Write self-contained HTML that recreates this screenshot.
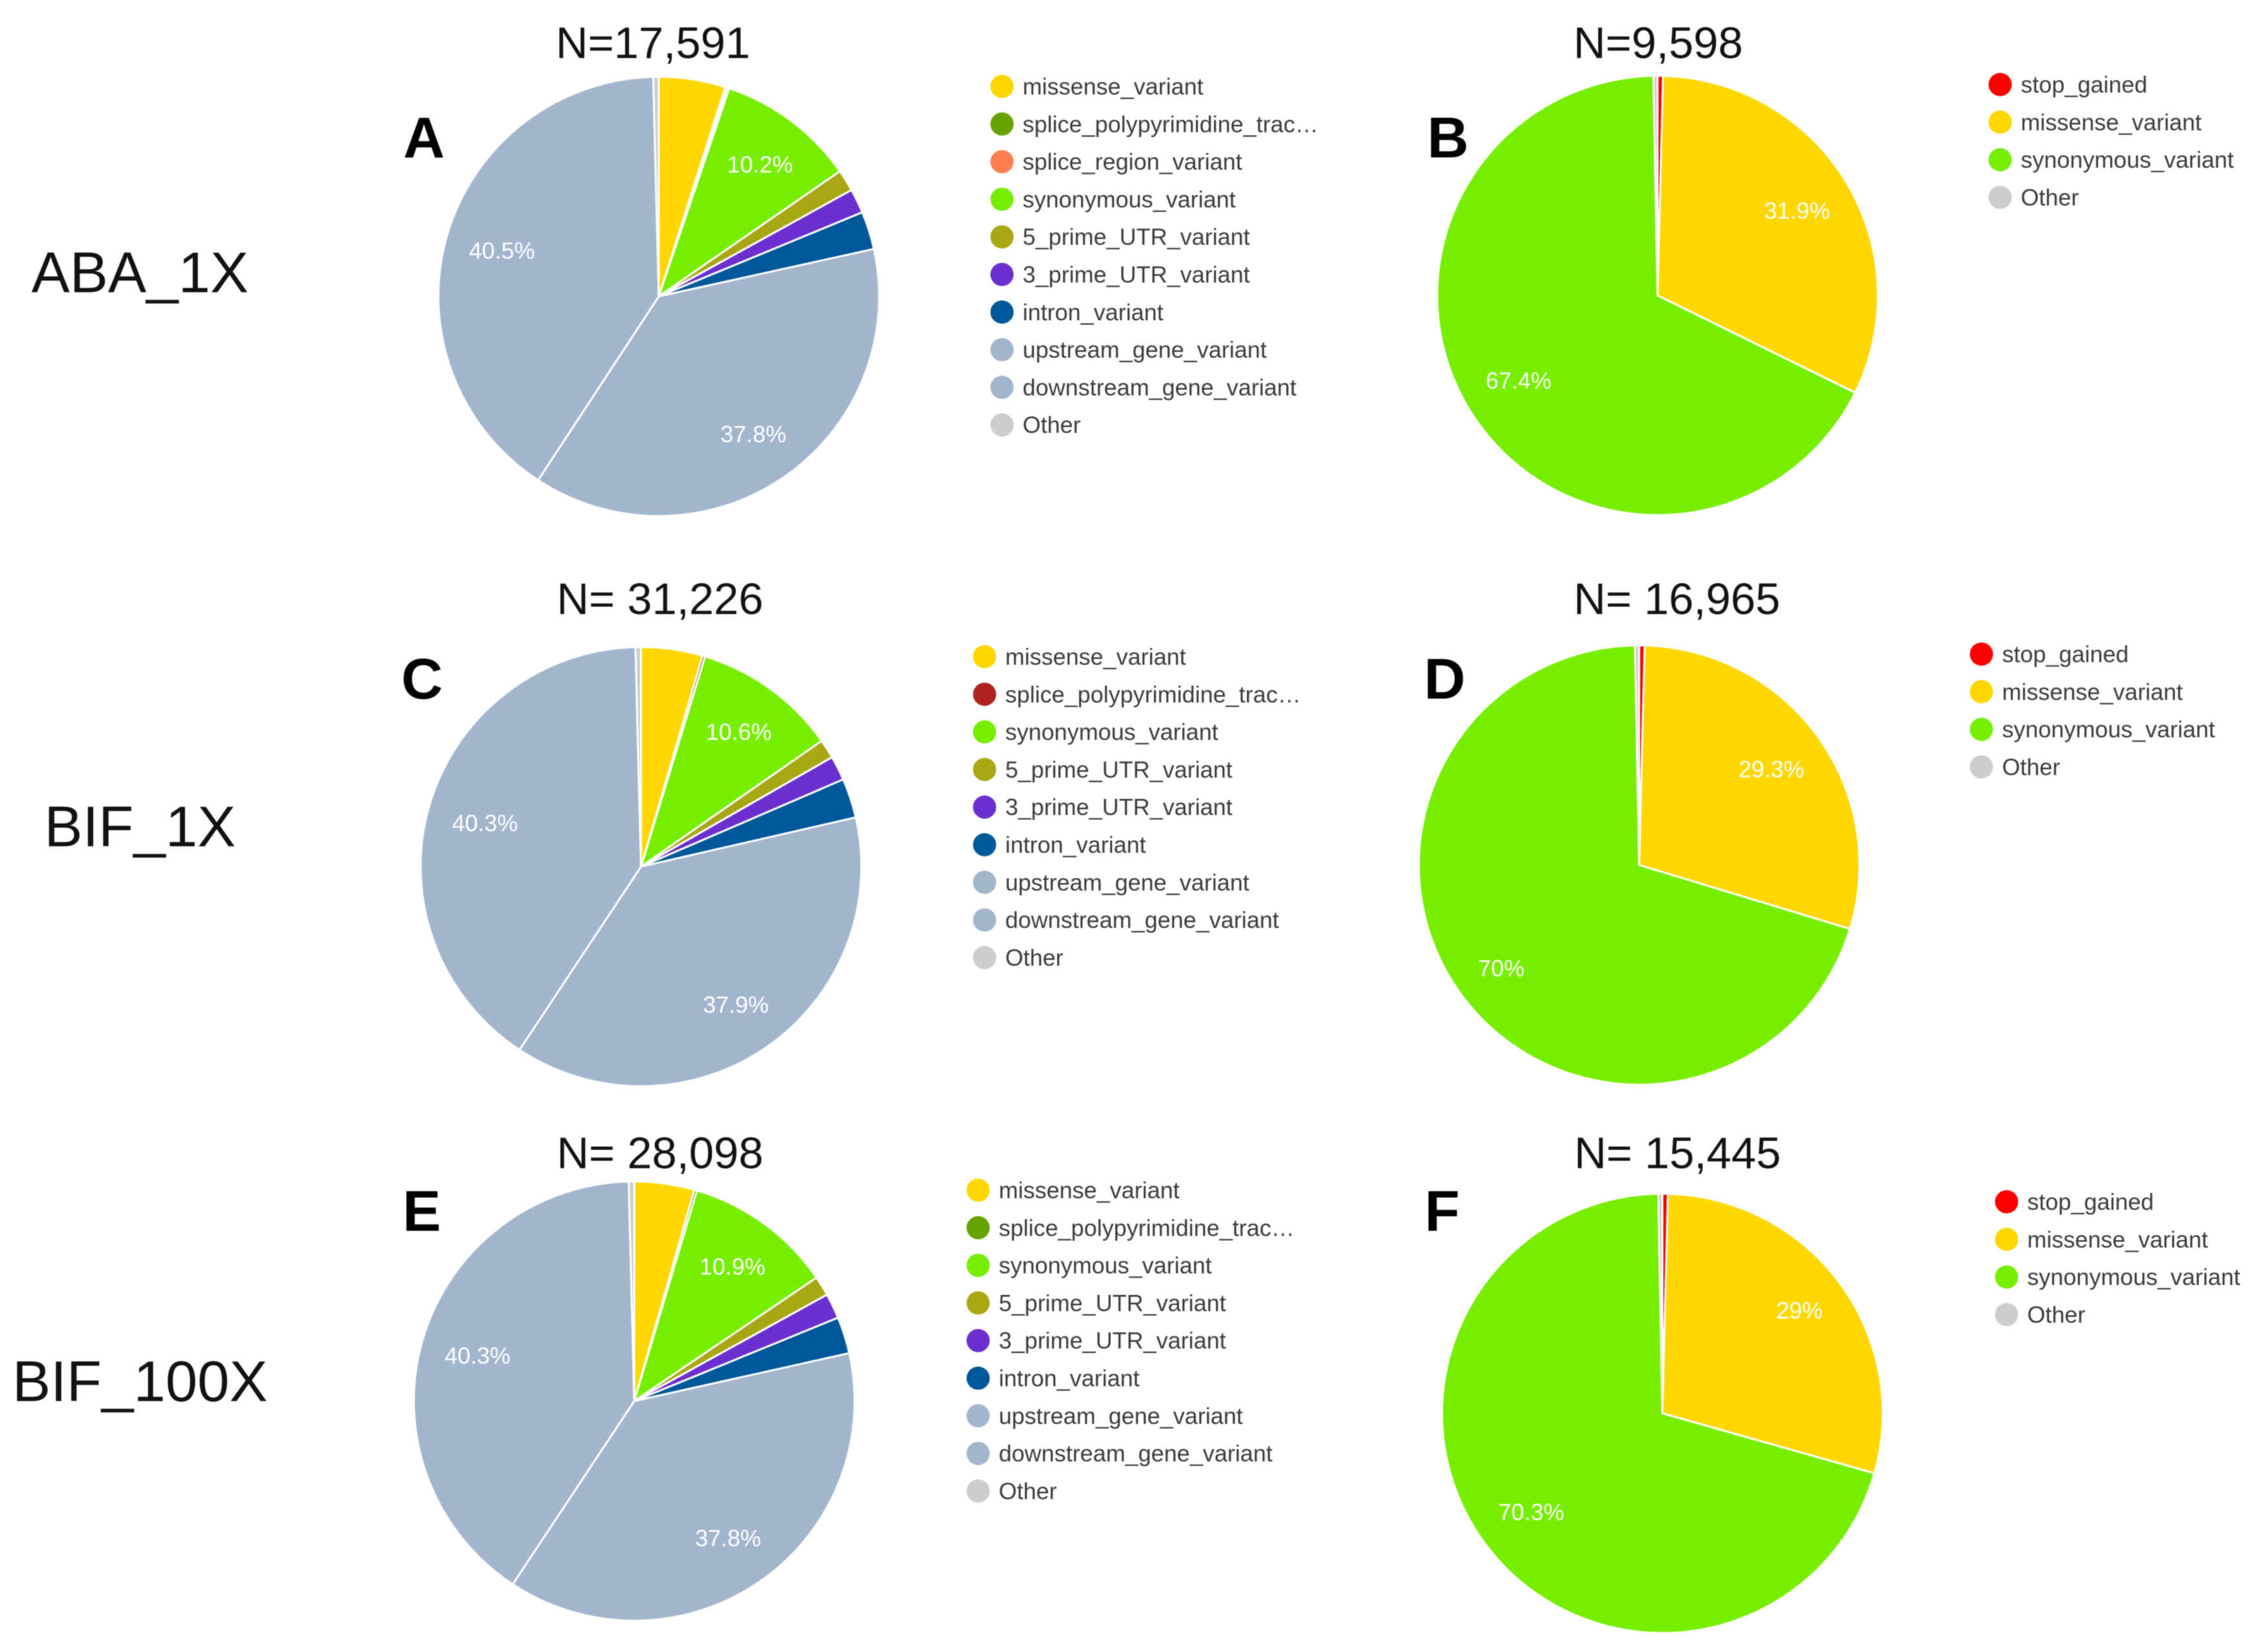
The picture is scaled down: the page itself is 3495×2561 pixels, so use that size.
<!DOCTYPE html>
<html lang="en">
<head>
<meta charset="utf-8">
<title>Variant effect pie charts</title>
<style>
  html, body { margin: 0; padding: 0; background: #ffffff; }
  svg { display: block; font-family: "Liberation Sans", Arial, sans-serif; filter: blur(0.8px); }
  .sample { font-size: 89px; fill: #111111; text-anchor: middle; }
  .total { font-size: 69px; fill: #111111; text-anchor: middle; }
  .letter { font-size: 89px; font-weight: bold; fill: #000000; }
  .legend-text { font-size: 36px; fill: #3a3a3a; dominant-baseline: central; }
  .pct { font-size: 36px; fill: #ffffff; text-anchor: middle; dominant-baseline: central; }
</style>
</head>
<body>
<svg id="figure" xmlns="http://www.w3.org/2000/svg" width="3495" height="2561" viewBox="0 0 3495 2561">
  <rect x="0" y="0" width="3495" height="2561" fill="#ffffff"/>

  <text class="sample" x="217" y="453">ABA_1X</text>
  <text class="sample" x="217" y="1312">BIF_1X</text>
  <text class="sample" x="217" y="2172">BIF_100X</text>

  <text class="total" x="1012" y="90">N=17,591</text>
  <text class="total" x="2570" y="90">N=9,598</text>
  <text class="total" x="1023" y="952">N= 31,226</text>
  <text class="total" x="2599" y="952">N= 16,965</text>
  <text class="total" x="1023" y="1811">N= 28,098</text>
  <text class="total" x="2600" y="1811">N= 15,445</text>

  <text class="letter" x="625" y="244">A</text>
  <text class="letter" x="2212" y="244">B</text>
  <text class="letter" x="622" y="1083">C</text>
  <text class="letter" x="2207" y="1083">D</text>
  <text class="letter" x="624" y="1908">E</text>
  <text class="letter" x="2208" y="1908">F</text>
</svg>

<script>
// Data: categories (clockwise from 12 o'clock) and percent values for each panel.
const categoriesA = ["missense_variant", "splice_polypyrimidine_trac…", "splice_region_variant", "synonymous_variant", "5_prime_UTR_variant", "3_prime_UTR_variant", "intron_variant", "upstream_gene_variant", "downstream_gene_variant", "Other"];
const valuesA = [4.9, 0.15, 0.15, 10.2, 1.6, 1.8, 2.8, 37.8, 40.5, 0.4];

const categoriesB = ["stop_gained", "missense_variant", "synonymous_variant", "Other"];
const valuesB = [0.4, 31.9, 67.4, 0.3];

const categoriesC = ["missense_variant", "splice_polypyrimidine_trac…", "synonymous_variant", "5_prime_UTR_variant", "3_prime_UTR_variant", "intron_variant", "upstream_gene_variant", "downstream_gene_variant", "Other"];
const valuesC = [4.5, 0.2, 10.6, 1.4, 1.8, 2.9, 37.9, 40.3, 0.4];

const categoriesD = ["stop_gained", "missense_variant", "synonymous_variant", "Other"];
const valuesD = [0.4, 29.3, 70, 0.3];

const categoriesE = ["missense_variant", "splice_polypyrimidine_trac…", "synonymous_variant", "5_prime_UTR_variant", "3_prime_UTR_variant", "intron_variant", "upstream_gene_variant", "downstream_gene_variant", "Other"];
const valuesE = [4.4, 0.2, 10.9, 1.45, 1.85, 2.7, 37.8, 40.3, 0.4];

const categoriesF = ["stop_gained", "missense_variant", "synonymous_variant", "Other"];
const valuesF = [0.4, 29, 70.3, 0.3];

// Styling, kept apart from the data.
const colorFor = {
  "stop_gained": "#ff0000",
  "missense_variant": "#ffd700",
  "splice_polypyrimidine_trac…": "#66a300",
  "splice_region_variant": "#ff7f50",
  "synonymous_variant": "#76ee00",
  "5_prime_UTR_variant": "#a8a612",
  "3_prime_UTR_variant": "#6a2fce",
  "intron_variant": "#00589b",
  "upstream_gene_variant": "#a2b5cd",
  "downstream_gene_variant": "#a2b5cd",
  "Other": "#cccccc"
};
// Small placement adjustments applied on top of the computed label anchor.
const labelNudge = {
  "a-synonymous-variant": [5, -3],
  "a-upstream-gene-variant": [3, 6],
  "a-downstream-gene-variant": [0, -2],
  "b-missense-variant": [0, -1],
  "b-synonymous-variant": [-2, -3],
  "c-synonymous-variant": [3, -5],
  "c-upstream-gene-variant": [3, 7],
  "c-downstream-gene-variant": [1, 2],
  "d-missense-variant": [0, -1],
  "d-synonymous-variant": [-12, 8],
  "e-synonymous-variant": [3, -5],
  "e-upstream-gene-variant": [2, 5],
  "e-downstream-gene-variant": [0, -1],
  "f-missense-variant": [9, -10],
  "f-synonymous-variant": [-3, -1]
};
const SVG_NS = "http://www.w3.org/2000/svg";
const RADIUS_X = 341.5;
const RADIUS_Y = 340.5;
const LABEL_FRACTION = 0.74;
const LABEL_MIN_PERCENT = 10;
const LEGEND_STEP = 58.3;
const LEGEND_DOT_R = 18;
const LEGEND_TEXT_GAP = 32;

const figure = document.getElementById("figure");

function slug(text) {
  return text.replace(/[^A-Za-z0-9]+/g, "-").replace(/-+$/, "").toLowerCase();
}

function pointAt(cx, cy, fraction, share) {
  const a = share * 2 * Math.PI;
  return [cx + fraction * RADIUS_X * Math.sin(a), cy - fraction * RADIUS_Y * Math.cos(a)];
}

function drawPanel(id, categories, values, cx, cy, legendX, legendY, overrides) {
  const total = values.reduce(function (s, v) { return s + v; }, 0);
  let running = 0;

  const group = document.createElementNS(SVG_NS, "g");
  
  
  figure.appendChild(group);

  values.forEach(function (value, i) {
    const from = running / total;
    running += value;
    const to = running / total;
    const p0 = pointAt(cx, cy, 1, from);
    const p1 = pointAt(cx, cy, 1, to);
    const large = to - from > 0.5 ? 1 : 0;
    const slice = document.createElementNS(SVG_NS, "path");
    slice.setAttribute("d", "M" + cx + " " + cy + "L" + p0[0] + " " + p0[1] + "A" + RADIUS_X + " " + RADIUS_Y + " 0 " + large + " 1 " + p1[0] + " " + p1[1] + "Z");
    slice.setAttribute("fill", (overrides && overrides[categories[i]]) || colorFor[categories[i]]);
    slice.setAttribute("stroke", "#ffffff");
    slice.setAttribute("stroke-width", "3");
    slice.setAttribute("stroke-linejoin", "round");
    
    
    group.appendChild(slice);
  });

  running = 0;
  values.forEach(function (value, i) {
    const mid = (running + value / 2) / total;
    running += value;
    if (value >= LABEL_MIN_PERCENT) {
      const pos = pointAt(cx, cy, LABEL_FRACTION, mid);
      const nudge = labelNudge[id + "-" + slug(categories[i])] || [0, 0];
      const label = document.createElementNS(SVG_NS, "text");
      label.setAttribute("class", "pct");
      label.setAttribute("x", pos[0] + nudge[0]);
      label.setAttribute("y", pos[1] + nudge[1]);
      label.textContent = value + "%";
      
      
      group.appendChild(label);
    }
  });

  categories.forEach(function (name, i) {
    const y = legendY + i * LEGEND_STEP;
    const entry = document.createElementNS(SVG_NS, "g");
    
    
    const dot = document.createElementNS(SVG_NS, "circle");
    dot.setAttribute("cx", legendX);
    dot.setAttribute("cy", y);
    dot.setAttribute("r", LEGEND_DOT_R);
    dot.setAttribute("fill", (overrides && overrides[name]) || colorFor[name]);
    
    
    const text = document.createElementNS(SVG_NS, "text");
    text.setAttribute("class", "legend-text");
    text.setAttribute("x", legendX + LEGEND_TEXT_GAP);
    text.setAttribute("y", y);
    text.textContent = name;
    
    
    entry.appendChild(dot);
    entry.appendChild(text);
    figure.appendChild(entry);
  });
}

drawPanel("a", categoriesA, valuesA, 1021, 459.5, 1553, 134);
drawPanel("b", categoriesB, valuesB, 2569, 458, 3100, 131);
drawPanel("c", categoriesC, valuesC, 993.5, 1343.5, 1526, 1018, { "splice_polypyrimidine_trac…": "#b22222" });
drawPanel("d", categoriesD, valuesD, 2540.5, 1341, 3071, 1014);
drawPanel("e", categoriesE, valuesE, 983, 2172, 1516, 1845);
drawPanel("f", categoriesF, valuesF, 2576.5, 2191, 3110, 1863);
</script>
</body>
</html>
